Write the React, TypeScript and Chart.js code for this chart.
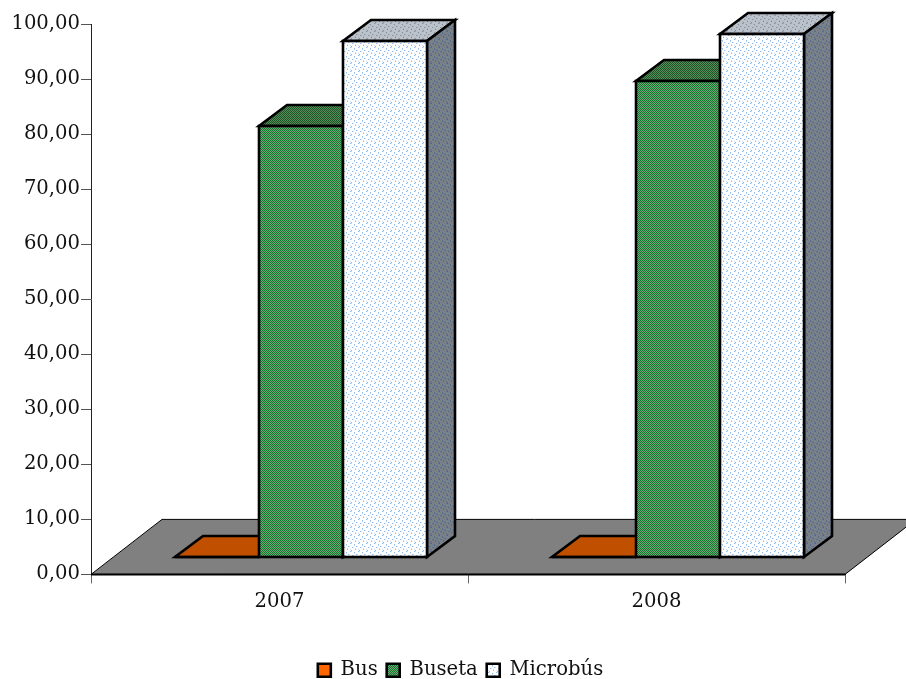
import React, { useEffect, useRef } from "react";
import { Chart, registerables } from "chart.js";

Chart.register(...registerables);

const years = ["2007", "2008"];
const seriesNames = ["Bus", "Buseta", "Microbús"];
const busValues = [0, 0];
const busetaValues = [78.4, 86.5];
const microbusValues = [93.8, 95.1];
const yTicksMax = 100;
const yTickStep = 10;

const FONT = "'DejaVu Serif'";
const FONT_SIZE = 19.6;
const FRONT_DX = 22;
const FRONT_DY = -17;
const BAR_DX = 28;
const BAR_DY = -21;
const FLOOR_DX = 71;
const FLOOR_DY = -55;
const LEGEND_SHIFT = 38;

function dither(
  ctx: CanvasRenderingContext2D,
  base: string,
  dot: string,
  accent: string,
  size: number,
  cells: number[][],
  accents: number[][],
) {
  const c = document.createElement("canvas");
  c.width = size;
  c.height = size;
  const t = c.getContext("2d")!;
  t.fillStyle = base;
  t.fillRect(0, 0, size, size);
  t.fillStyle = dot;
  cells.forEach(([x, y]) => t.fillRect(x, y, 1, 1));
  t.fillStyle = accent;
  accents.forEach(([x, y]) => t.fillRect(x, y, 1, 1));
  return ctx.createPattern(c, "repeat")!;
}

const checker = [[0, 0], [2, 0], [1, 1], [3, 1], [0, 2], [1, 3], [3, 3]];
const checkerAccent = [[2, 2]];
const sparse = [[0, 0], [4, 1], [6, 3], [2, 4], [5, 6], [1, 7]];
const sparseAccent = [[1, 0], [4, 2], [3, 4], [5, 5], [7, 3], [0, 6]];

function makeStyles(ctx: CanvasRenderingContext2D) {
  return [
    { front: "#ff6600", top: "#c05000", side: "#a04000" },
    {
      front: dither(ctx, "#0a7d28", "#7da07d", "#6b946f", 4, checker, checkerAccent),
      top: dither(ctx, "#145a23", "#64875f", "#557a55", 4, checker, checkerAccent),
      side: dither(ctx, "#145a23", "#64875f", "#557a55", 4, checker, checkerAccent),
    },
    {
      front: dither(ctx, "#ffffff", "#8dbcf0", "#cfe1f8", 8, sparse, sparseAccent),
      top: dither(ctx, "#bcc2ca", "#838d9c", "#a4adb9", 8, sparse, sparseAccent),
      side: dither(ctx, "#7a8088", "#54709c", "#5f666e", 8, sparse, sparseAccent),
    },
  ];
}

export default function App() {
  const ref = useRef<HTMLCanvasElement>(null);

  useEffect(() => {
    const canvas = ref.current!;
    const ctx = canvas.getContext("2d")!;
    const styles = makeStyles(ctx);
    const values = [busValues, busetaValues, microbusValues];

    const poly = (c: CanvasRenderingContext2D, pts: number[][], fill: any) => {
      c.beginPath();
      pts.forEach(([x, y], i) => (i ? c.lineTo(x, y) : c.moveTo(x, y)));
      c.closePath();
      c.fillStyle = fill;
      c.fill();
      c.stroke();
    };

    const threeD = {
      id: "threeD",
      afterLayout(chart: any) {
        chart.legend.left += LEGEND_SHIFT;
        chart.legend.right += LEGEND_SHIFT;
      },
      beforeDatasetsDraw(chart: any) {
        const c = chart.ctx;
        const { left, right } = chart.chartArea;
        const y0 = chart.scales.y.getPixelForValue(0);
        c.save();
        c.strokeStyle = "#000";
        c.lineWidth = 1;
        poly(c, [[left, y0], [right, y0], [right + FLOOR_DX, y0 + FLOOR_DY], [left + FLOOR_DX, y0 + FLOOR_DY]], "#808080");
        c.lineWidth = 2;
        c.beginPath();
        c.moveTo(left, y0);
        c.lineTo(right, y0);
        c.stroke();
        c.restore();

        seriesNames.forEach((_, i) => {
          const meta = chart.getDatasetMeta(i);
          const s = styles[i];
          c.save();
          c.translate(FRONT_DX, FRONT_DY);
          c.strokeStyle = "#000";
          c.lineWidth = 2.6;
          c.lineJoin = "miter";
          meta.data.forEach((el: any) => {
            const l = Math.floor(el.x - el.width / 2);
            const r = Math.floor(el.x + el.width / 2);
            const t = Math.round(el.y);
            const b = Math.round(el.base);
            poly(c, [[l, t], [r, t], [r + BAR_DX, t + BAR_DY], [l + BAR_DX, t + BAR_DY]], s.top);
            poly(c, [[r, t], [r, b], [r + BAR_DX, b + BAR_DY], [r + BAR_DX, t + BAR_DY]], s.side);
          });
          meta.controller.draw();
          meta.data.forEach((el: any) => {
            const l = Math.floor(el.x - el.width / 2);
            const r = Math.floor(el.x + el.width / 2);
            const t = Math.round(el.y);
            const b = Math.round(el.base);
            c.strokeRect(l, t, r - l, b - t);
          });
          c.restore();
        });
        return false;
      },
    };

    const chart = new Chart(canvas, {
      type: "bar",
      data: {
        labels: years,
        datasets: seriesNames.map((name, i) => ({
          label: name,
          data: values[i],
          backgroundColor: styles[i].front,
          borderWidth: 0,
          clip: false,
          categoryPercentage: 0.668,
          barPercentage: 1,
        })) as any,
      },
      plugins: [threeD as any],
      options: {
        responsive: false,
        animation: false,
        layout: { padding: { left: 0, right: 61, top: 24, bottom: -11 } },
        plugins: {
          title: { display: false },
          tooltip: { enabled: false },
          legend: {
            position: "bottom",
            onClick: () => {},
            labels: {
              boxWidth: 13,
              boxHeight: 13,
              padding: 9,
              color: "#111",
              font: { family: FONT, size: FONT_SIZE },
              generateLabels: (ch: any) =>
                ch.data.datasets.map((d: any, i: number) => ({
                  text: d.label,
                  fillStyle: d.backgroundColor,
                  strokeStyle: "#000",
                  lineWidth: 2.6,
                  datasetIndex: i,
                  hidden: false,
                  fontColor: "#111",
                })),
            },
          },
        },
        scales: {
          x: {
            type: "category",
            afterFit: (s: any) => { s.height = 77; },
            border: { color: "#000", width: 1 },
            grid: { display: true, drawOnChartArea: false, drawTicks: true, tickLength: 9, color: "#666", offset: true },
            ticks: { color: "#111", padding: 7, font: { family: FONT, size: FONT_SIZE }, maxRotation: 0 },
          },
          y: {
            min: 0,
            max: yTicksMax,
            afterFit: (s: any) => { s.width = 91; },
            border: { color: "#222", width: 1 },
            grid: { display: true, drawOnChartArea: false, drawTicks: true, tickLength: 10, color: "#555" },
            ticks: {
              stepSize: yTickStep,
              autoSkip: false,
              color: "#111",
              padding: 1,
              font: { family: FONT, size: FONT_SIZE },
              callback: (v: any) => Number(v).toFixed(2).replace(".", ","),
            },
          },
        },
      },
    });
    return () => chart.destroy();
  }, []);

  return (
    <canvas
      ref={ref}
      width={906}
      height={679}
      style={{ position: "absolute", left: 0, top: 0, display: "block" }}
    />
  );
}
